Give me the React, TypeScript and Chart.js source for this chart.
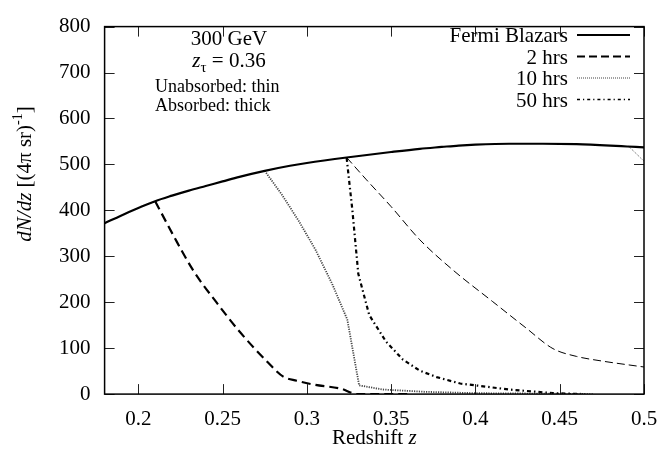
import React, { useEffect, useRef } from "react";
import { Chart, registerables } from "chart.js";

Chart.register(...registerables);

const FONT = "'Liberation Serif', 'Times New Roman', serif";

// Axis ranges and ticks
const X_MIN = 0.18;
const X_MAX = 0.5;
const Y_MIN = 0;
const Y_MAX = 800;
const xTickValues = [0.2, 0.25, 0.3, 0.35, 0.4, 0.45, 0.5];
const xTickLabels = ["0.2", "0.25", "0.3", "0.35", "0.4", "0.45", "0.5"];
const yTickValues = [0, 100, 200, 300, 400, 500, 600, 700, 800];
const yTickLabels = ["0", "100", "200", "300", "400", "500", "600", "700", "800"];

// Fermi Blazars (intrinsic distribution)
const fermiZ = [0.18, 0.19, 0.2, 0.21, 0.22, 0.23, 0.24, 0.25, 0.26, 0.275, 0.29, 0.3, 0.3236, 0.35, 0.367, 0.38, 0.39, 0.4, 0.42, 0.44, 0.46, 0.48, 0.49, 0.5];
const fermiN = [372, 389, 405, 420, 432, 443, 453, 463, 473, 486, 497, 503, 515, 527, 534, 538, 541, 543, 545, 545, 544, 541, 539, 537];

// 2 hrs, absorbed (thick)
const hrs2AbsZ = [0.21, 0.2207, 0.2326, 0.2465, 0.2603, 0.2761, 0.286, 0.294, 0.305, 0.32, 0.33, 0.36];
const hrs2AbsN = [420, 346, 269, 199, 135, 72, 38, 29, 20, 12, 0, 0];

// 2 hrs, unabsorbed (thin)
const hrs2UnZ = [0.3236, 0.335, 0.35, 0.367, 0.387, 0.41, 0.43, 0.446, 0.46, 0.475, 0.49, 0.5];
const hrs2UnN = [515, 468, 408, 336, 269, 202, 144, 99, 82, 72, 64, 59];

// 10 hrs, absorbed (thick)
const hrs10AbsZ = [0.275, 0.285, 0.295, 0.305, 0.315, 0.324, 0.331, 0.345, 0.37, 0.4, 0.44, 0.47];
const hrs10AbsN = [486, 435, 378, 315, 240, 162, 19, 10, 5, 2, 1, 0];

// 10 hrs, unabsorbed (thin)
const hrs10UnZ = [0.491, 0.5];
const hrs10UnN = [539, 507];

// 50 hrs, absorbed (thick)
const hrs50AbsZ = [0.3236, 0.327, 0.3305, 0.337, 0.347, 0.357, 0.367, 0.377, 0.391, 0.4, 0.42, 0.446, 0.465];
const hrs50AbsN = [514, 400, 262, 172, 114, 75, 51, 37, 23, 19, 10, 2, 0];

// Legend
const legendLabels = ["Fermi Blazars", "2 hrs", "10 hrs", "50 hrs"];

type Sty = { color: string; width: number; dash: number[]; smooth?: boolean };
const STY_SOLID: Sty = { color: "#000", width: 2.2, dash: [], smooth: true };
const STY_DASH_THICK: Sty = { color: "#000", width: 2.2, dash: [9, 5], smooth: true };
const STY_DASH_THIN: Sty = { color: "#000", width: 1, dash: [8, 4], smooth: true };
const STY_DOT_THICK: Sty = { color: "#444", width: 1.8, dash: [1.2, 1.2] };
const STY_DOT_THIN: Sty = { color: "#555", width: 1, dash: [1, 1.2] };
const STY_DD_THICK: Sty = { color: "#000", width: 2.2, dash: [4, 3, 1.5, 3] };
const legendStyles: Sty[] = [
  { color: "#000", width: 2, dash: [] },
  { color: "#000", width: 1.8, dash: [8, 4] },
  { color: "#444", width: 1.2, dash: [1, 1] },
  { color: "#000", width: 1.5, dash: [3, 3, 1.2, 3] },
];

function pts(zs: number[], ns: number[]) {
  return zs.map((z, i) => ({ x: z, y: ns[i] }));
}

function ds(label: string, zs: number[], ns: number[], s: Sty) {
  return {
    label,
    data: pts(zs, ns),
    borderColor: s.color,
    borderWidth: s.width,
    borderDash: s.dash,
    pointRadius: 0,
    tension: 0,
    cubicInterpolationMode: s.smooth ? "monotone" : "default",
    fill: false,
  };
}

type Seg = { t: string; italic?: boolean; size?: number; dy?: number };

function drawRich(ctx: CanvasRenderingContext2D, segs: Seg[], x: number, y: number, align: string, baseSize: number) {
  const fontOf = (s: Seg) => `${s.italic ? "italic " : ""}${s.size || baseSize}px ${FONT}`;
  const widths = segs.map((s) => {
    ctx.font = fontOf(s);
    return ctx.measureText(s.t).width;
  });
  const total = widths.reduce((a, b) => a + b, 0);
  let cx = align === "center" ? x - total / 2 : align === "right" ? x - total : x;
  segs.forEach((s, i) => {
    ctx.font = fontOf(s);
    ctx.textAlign = "left";
    ctx.textBaseline = "alphabetic";
    ctx.fillStyle = "#000";
    ctx.fillText(s.t, cx, y + (s.dy || 0));
    cx += widths[i];
  });
}

const decorPlugin = {
  id: "decor",
  afterDraw(chart: any) {
    const ctx: CanvasRenderingContext2D = chart.ctx;
    const { left, right, top, bottom } = chart.chartArea;
    const xs = chart.scales.x;
    const ys = chart.scales.y;
    ctx.save();
    // ticks (inward, mirrored)
    ctx.strokeStyle = "#222";
    ctx.lineWidth = 1;
    ctx.setLineDash([]);
    const TL = 10;
    xTickValues.forEach((v) => {
      const px = Math.round(xs.getPixelForValue(v)) + 0.5;
      ctx.beginPath();
      ctx.moveTo(px, bottom);
      ctx.lineTo(px, bottom - TL);
      ctx.moveTo(px, top);
      ctx.lineTo(px, top + TL);
      ctx.stroke();
    });
    yTickValues.forEach((v) => {
      const py = Math.round(ys.getPixelForValue(v)) + 0.5;
      ctx.beginPath();
      ctx.moveTo(left, py);
      ctx.lineTo(left + TL, py);
      ctx.moveTo(right, py);
      ctx.lineTo(right - TL, py);
      ctx.stroke();
    });
    // frame
    ctx.strokeStyle = "#000";
    ctx.lineWidth = 1.5;
    ctx.strokeRect(left, top, right - left, bottom - top);

    // annotation
    drawRich(ctx, [{ t: "300 GeV" }], 229, 45, "center", 21);
    drawRich(ctx, [{ t: "z", italic: true }, { t: "τ", size: 15, dy: 5 }, { t: " = 0.36" }], 229, 66.5, "center", 21);
    drawRich(ctx, [{ t: "Unabsorbed: thin" }], 155, 92.3, "left", 18);
    drawRich(ctx, [{ t: "Absorbed: thick" }], 155, 110.7, "left", 18);

    // legend
    const baseY = 42;
    const step = 21.5;
    legendLabels.forEach((lab, i) => {
      const by = baseY + i * step;
      drawRich(ctx, [{ t: lab }], 568, by, "right", 21);
      const s = legendStyles[i];
      ctx.strokeStyle = s.color;
      ctx.lineWidth = s.width;
      ctx.setLineDash(s.dash);
      ctx.beginPath();
      ctx.moveTo(577, by - 7);
      ctx.lineTo(630, by - 7);
      ctx.stroke();
    });
    ctx.setLineDash([]);

    // x title
    drawRich(ctx, [{ t: "Redshift " }, { t: "z", italic: true }], (left + right) / 2, 444, "center", 21);

    // y title
    ctx.translate(31, 174);
    ctx.rotate(-Math.PI / 2);
    drawRich(
      ctx,
      [
        { t: "dN/dz", italic: true },
        { t: " [(4π sr)" },
        { t: "-1", size: 14, dy: -9 },
        { t: "]" },
      ],
      0,
      0,
      "center",
      21
    );
    ctx.restore();
  },
};

export default function App() {
  const ref = useRef<HTMLCanvasElement>(null);
  useEffect(() => {
    if (!ref.current) return;
    const chart = new Chart(ref.current, {
      type: "line",
      data: {
        datasets: [
          ds("Fermi Blazars", fermiZ, fermiN, STY_SOLID),
          ds("2 hrs abs", hrs2AbsZ, hrs2AbsN, STY_DASH_THICK),
          ds("2 hrs unabs", hrs2UnZ, hrs2UnN, STY_DASH_THIN),
          ds("10 hrs abs", hrs10AbsZ, hrs10AbsN, STY_DOT_THICK),
          ds("10 hrs unabs", hrs10UnZ, hrs10UnN, STY_DOT_THIN),
          ds("50 hrs abs", hrs50AbsZ, hrs50AbsN, STY_DD_THICK),
        ] as any,
      },
      options: {
        responsive: false,
        animation: false,
        layout: { padding: { top: 15, right: 28, left: 0, bottom: 0 } },
        plugins: { legend: { display: false }, tooltip: { enabled: false } },
        scales: {
          x: {
            type: "linear",
            min: X_MIN,
            max: X_MAX,
            grid: { display: false, drawTicks: false },
            border: { display: false },
            afterBuildTicks: (s: any) => {
              s.ticks = xTickValues.map((v) => ({ value: v }));
            },
            afterFit: (s: any) => {
              s.height = 66.9;
            },
            ticks: {
              padding: 13,
              color: "#000",
              font: { family: FONT, size: 21 },
              maxRotation: 0,
              autoSkip: false,
              callback: (v: any) => {
                const i = xTickValues.findIndex((t) => Math.abs(t - Number(v)) < 1e-9);
                return i >= 0 ? xTickLabels[i] : "";
              },
            },
          },
          y: {
            type: "linear",
            min: Y_MIN,
            max: Y_MAX,
            grid: { display: false, drawTicks: false },
            border: { display: false },
            afterBuildTicks: (s: any) => {
              s.ticks = yTickValues.map((v) => ({ value: v }));
            },
            afterFit: (s: any) => {
              s.width = 104.6;
            },
            ticks: {
              padding: 14,
              color: "#000",
              font: { family: FONT, size: 21 },
              autoSkip: false,
              callback: (v: any) => {
                const i = yTickValues.indexOf(Number(v));
                return i >= 0 ? yTickLabels[i] : "";
              },
            },
          },
        },
      } as any,
      plugins: [decorPlugin],
    });
    return () => chart.destroy();
  }, []);
  return (
    <div style={{ position: "fixed", left: 0, top: 0, width: 672, height: 461, background: "#fff" }}>
      <canvas ref={ref} width={672} height={461} style={{ display: "block" }} />
    </div>
  );
}
